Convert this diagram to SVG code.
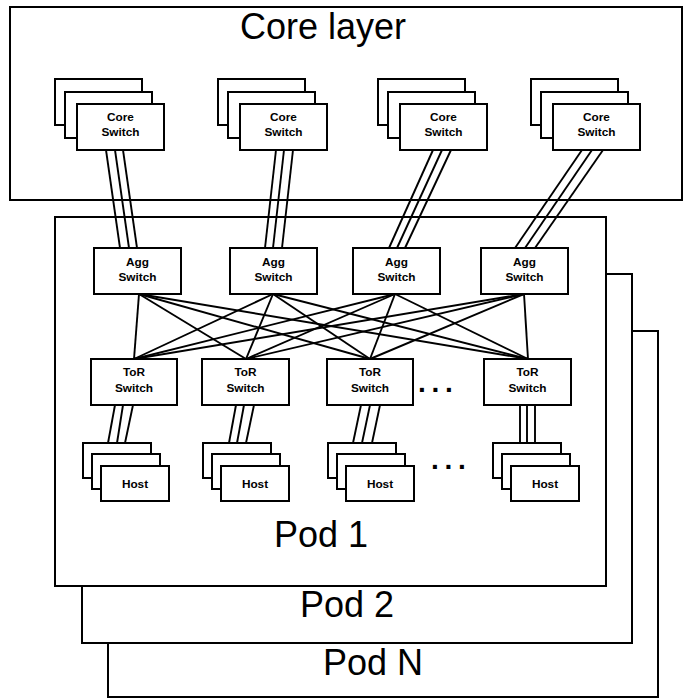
<svg xmlns="http://www.w3.org/2000/svg" width="689" height="698" viewBox="0 0 689 698">
<style>
.box{fill:#fff;stroke:#000;stroke-width:2}
.ln{stroke:#000;stroke-width:1.9;fill:none}
.lbl{font-family:"Liberation Sans",Arial,sans-serif;font-weight:bold;font-size:11.8px;text-anchor:middle;fill:#000}
.big{font-family:"Liberation Sans",Arial,sans-serif;font-size:36px;text-anchor:middle;fill:#000}
.dots{font-family:"Liberation Sans",Arial,sans-serif;font-weight:bold;font-size:28px;letter-spacing:5.7px;fill:#000}
</style>
<defs>
<g id="coreStack">
<rect class="box" x="0" y="0" width="87" height="46"/>
<rect class="box" x="10" y="13" width="87" height="46"/>
<rect class="box" x="22" y="25" width="87" height="46"/>
<text class="lbl" x="65.5" y="42">Core</text>
<text class="lbl" x="65.5" y="57">Switch</text>
</g>
<g id="hostStack">
<rect class="box" x="0" y="0" width="68" height="35"/>
<rect class="box" x="9" y="11" width="68" height="35"/>
<rect class="box" x="18" y="23" width="68" height="35"/>
<text class="lbl" x="52" y="45">Host</text>
</g>
</defs>

<g id="pod-n"><rect class="box" x="108" y="331" width="550" height="366"/><text class="big" x="373" y="675">Pod N</text></g>
<g id="pod-2"><rect class="box" x="82" y="274" width="550" height="369"/><text class="big" x="347" y="617">Pod 2</text></g>
<g id="pod-1"><rect class="box" x="55" y="217" width="551" height="369"/><text class="big" x="321" y="547">Pod 1</text></g>

<g id="core-layer"><rect class="box" x="10" y="7" width="672" height="193"/><text class="big" x="323" y="39">Core layer</text></g>

<g id="core1"><use href="#coreStack" x="55" y="79"/></g>
<g id="core2"><use href="#coreStack" x="218" y="79"/></g>
<g id="core3"><use href="#coreStack" x="378" y="79"/></g>
<g id="core4"><use href="#coreStack" x="531" y="79"/></g>

<g id="agg1"><rect class="box" x="94" y="248" width="87" height="46"/><text class="lbl" x="137.5" y="266">Agg</text><text class="lbl" x="137.5" y="281">Switch</text></g>
<g id="agg2"><rect class="box" x="230" y="248" width="87" height="46"/><text class="lbl" x="273.5" y="266">Agg</text><text class="lbl" x="273.5" y="281">Switch</text></g>
<g id="agg3"><rect class="box" x="353" y="248" width="87" height="46"/><text class="lbl" x="396.5" y="266">Agg</text><text class="lbl" x="396.5" y="281">Switch</text></g>
<g id="agg4"><rect class="box" x="481" y="248" width="87" height="46"/><text class="lbl" x="524.5" y="266">Agg</text><text class="lbl" x="524.5" y="281">Switch</text></g>

<g id="tor1"><rect class="box" x="91" y="359" width="86" height="46"/><text class="lbl" x="134" y="376">ToR</text><text class="lbl" x="134" y="392">Switch</text></g>
<g id="tor2"><rect class="box" x="202" y="359" width="87" height="46"/><text class="lbl" x="245.5" y="376">ToR</text><text class="lbl" x="245.5" y="392">Switch</text></g>
<g id="tor3"><rect class="box" x="327" y="359" width="86" height="46"/><text class="lbl" x="370" y="376">ToR</text><text class="lbl" x="370" y="392">Switch</text></g>
<g id="tor4"><rect class="box" x="484" y="359" width="87" height="46"/><text class="lbl" x="527.5" y="376">ToR</text><text class="lbl" x="527.5" y="392">Switch</text></g>

<g id="host1"><use href="#hostStack" x="83" y="443"/></g>
<g id="host2"><use href="#hostStack" x="203" y="443"/></g>
<g id="host3"><use href="#hostStack" x="328" y="443"/></g>
<g id="host4"><use href="#hostStack" x="493" y="443"/></g>

<text class="dots" x="418" y="392">...</text>
<text class="dots" x="431" y="469">...</text>

<g id="connectors" class="ln">
<line x1="106" y1="150" x2="120" y2="248"/><line x1="115" y1="150" x2="129" y2="248"/><line x1="123" y1="150" x2="137" y2="248"/>
<line x1="276" y1="150" x2="265" y2="248"/><line x1="284" y1="150" x2="273" y2="248"/><line x1="293" y1="150" x2="282" y2="248"/>
<line x1="433" y1="150" x2="389" y2="248"/><line x1="442" y1="150" x2="397" y2="248"/><line x1="451" y1="150" x2="405" y2="248"/>
<line x1="582" y1="150" x2="515" y2="248"/><line x1="592" y1="150" x2="525" y2="248"/><line x1="603" y1="150" x2="535" y2="248"/>

<line x1="139" y1="294" x2="134" y2="359"/><line x1="139" y1="294" x2="246" y2="359"/><line x1="139" y1="294" x2="370" y2="359"/><line x1="139" y1="294" x2="528" y2="359"/>
<line x1="273" y1="294" x2="134" y2="359"/><line x1="273" y1="294" x2="246" y2="359"/><line x1="273" y1="294" x2="370" y2="359"/><line x1="273" y1="294" x2="528" y2="359"/>
<line x1="395" y1="294" x2="134" y2="359"/><line x1="395" y1="294" x2="246" y2="359"/><line x1="395" y1="294" x2="370" y2="359"/><line x1="395" y1="294" x2="528" y2="359"/>
<line x1="524" y1="294" x2="134" y2="359"/><line x1="524" y1="294" x2="246" y2="359"/><line x1="524" y1="294" x2="370" y2="359"/><line x1="524" y1="294" x2="528" y2="359"/>

<line x1="115" y1="405" x2="108" y2="443"/><line x1="123" y1="405" x2="117" y2="443"/><line x1="133" y1="405" x2="125" y2="443"/>
<line x1="236" y1="405" x2="229" y2="443"/><line x1="244" y1="405" x2="237" y2="443"/><line x1="254" y1="405" x2="246" y2="443"/>
<line x1="361" y1="405" x2="353" y2="443"/><line x1="370" y1="405" x2="362" y2="443"/><line x1="380" y1="405" x2="372" y2="443"/>
<line x1="520" y1="405" x2="520" y2="443"/><line x1="527" y1="405" x2="527" y2="443"/><line x1="535" y1="405" x2="535" y2="443"/>
</g>
</svg>
